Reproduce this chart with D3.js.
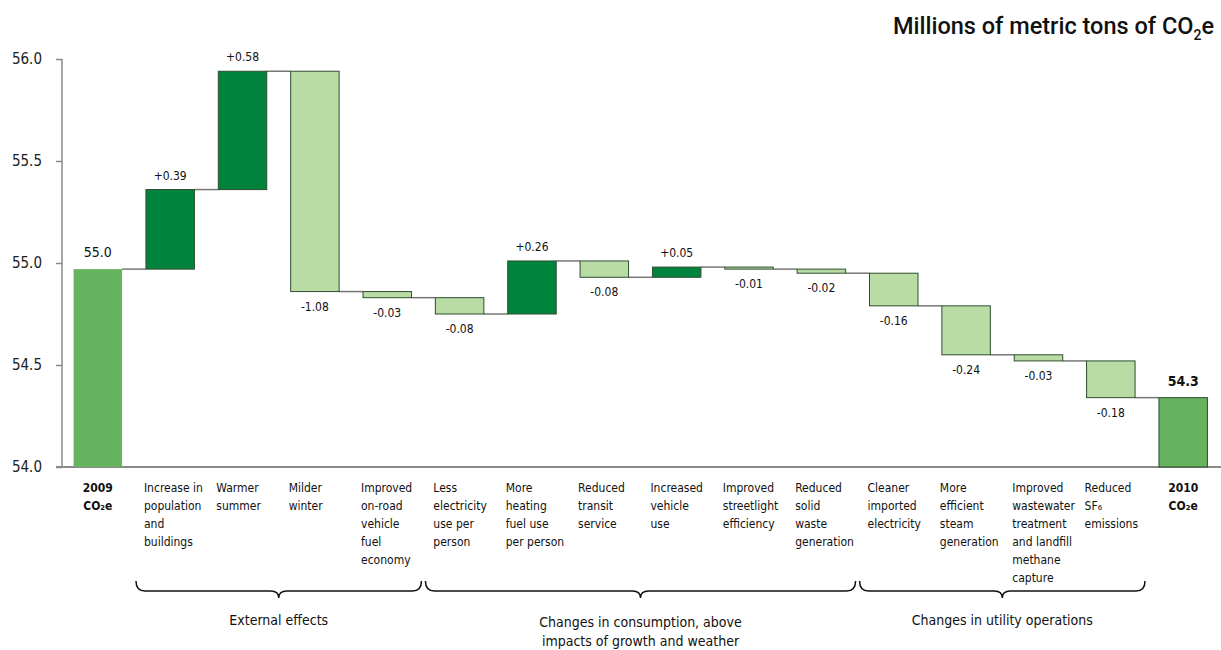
<!DOCTYPE html>
<html>
<head>
<meta charset="utf-8">
<script src="https://cdn.jsdelivr.net/npm/d3@7"></script>
<style>
  body { margin: 0; background: #fff; }
  svg { display: block; font-family: "DejaVu Sans Condensed", "Liberation Sans Narrow", sans-serif; }
</style>
</head>
<body>
<div id="chart"></div>
<script>
const labelLines = [
  ["2009", "CO₂e"],
  ["Increase in", "population", "and", "buildings"],
  ["Warmer", "summer"],
  ["Milder", "winter"],
  ["Improved", "on-road", "vehicle", "fuel", "economy"],
  ["Less", "electricity", "use per", "person"],
  ["More", "heating", "fuel use", "per person"],
  ["Reduced", "transit", "service"],
  ["Increased", "vehicle", "use"],
  ["Improved", "streetlight", "efficiency"],
  ["Reduced", "solid", "waste", "generation"],
  ["Cleaner", "imported", "electricity"],
  ["More", "efficient", "steam", "generation"],
  ["Improved", "wastewater", "treatment", "and landfill", "methane", "capture"],
  ["Reduced", "SF₆", "emissions"],
  ["2010", "CO₂e"]
];
const startTotal = 54.97;
const changes = [0.39, 0.58, -1.08, -0.03, -0.08, 0.26, -0.08, 0.05, -0.01, -0.02, -0.16, -0.24, -0.03, -0.18];
const totalLabels = ["55.0", "54.3"];
const yTicks = [54.0, 54.5, 55.0, 55.5, 56.0];
const groupNames = [["External effects"], ["Changes in consumption, above", "impacts of growth and weather"], ["Changes in utility operations"]];
const groupFirst = [1, 5, 11];
const groupLast = [4, 10, 14];

const width = 1221, height = 650;
const colTotal = "#66b35f", colUp = "#00843d", colDown = "#b9dca5";

// build waterfall steps
const steps = [];
let run = startTotal;
steps.push({ i: 0, y0: 54, y1: startTotal, kind: "total", label: totalLabels[0], end: startTotal, first: true });
changes.forEach((c, k) => {
  const s = run; run = +(run + c).toFixed(3);
  steps.push({ i: k + 1, y0: s, y1: run, kind: c >= 0 ? "up" : "down",
    label: (c >= 0 ? "+" : "") + c.toFixed(2), end: run });
});
steps.push({ i: steps.length, y0: 54, y1: run, kind: "total", label: totalLabels[1], end: run });

const svg = d3.select("#chart").append("svg")
  .attr("width", width).attr("height", height);

const x = d3.scaleBand()
  .domain(d3.range(labelLines.length))
  .range([62, 1219])
  .paddingInner(0.33)
  .paddingOuter(0.16);
const y = d3.scaleLinear().domain([54, 56]).range([467, 59]);
const bw = x.bandwidth();
const gap = x.step() - bw;

// title
const title = svg.append("text")
  .attr("x", 1214).attr("y", 34)
  .attr("text-anchor", "end")
  .attr("font-family", "Roboto, sans-serif")
  .attr("font-size", 23.5).attr("font-weight", 500)
  .attr("fill", "#111");
title.append("tspan").text("Millions of metric tons of CO");
title.append("tspan").attr("font-size", 14).attr("dy", 6).text("2");
title.append("tspan").attr("dy", -6).text("e");

// axes
const yAxis = svg.append("g").attr("transform", "translate(62,0)")
  .call(d3.axisLeft(y).tickValues(yTicks).tickFormat(d3.format(".1f")).tickSize(6).tickPadding(14));
yAxis.select(".domain").attr("stroke", "#888").attr("stroke-width", 1.5).attr("d", "M0,59V467");
yAxis.selectAll(".tick line").attr("stroke", "#888").attr("stroke-width", 1.5);
yAxis.selectAll(".tick text").attr("font-size", 15).attr("fill", "#222")
  .attr("font-family", "DejaVu Sans Condensed, sans-serif");

svg.append("line").attr("x1", 56).attr("x2", 1221).attr("y1", y(54)).attr("y2", y(54))
  .attr("stroke", "#888").attr("stroke-width", 2);

// connectors
svg.append("g").selectAll("line")
  .data(steps.slice(0, -1))
  .join("line")
  .attr("x1", d => x(d.i) + bw).attr("x2", d => x(d.i + 1))
  .attr("y1", d => y(d.end)).attr("y2", d => y(d.end))
  .attr("stroke", "#777").attr("stroke-width", 1.5);

// bars
svg.append("g").selectAll("rect")
  .data(steps)
  .join("rect")
  .attr("x", d => x(d.i))
  .attr("width", bw)
  .attr("y", d => y(Math.max(d.y0, d.y1)))
  .attr("height", d => Math.max(1.5, Math.abs(y(d.y0) - y(d.y1))))
  .attr("fill", d => d.kind === "total" ? colTotal : d.kind === "up" ? colUp : colDown)
  .attr("stroke", d => d.first ? "none" : "#2f4d2f")
  .attr("stroke-width", 1);

// value labels
svg.append("g").selectAll("text")
  .data(steps)
  .join("text")
  .attr("x", d => x(d.i) + bw / 2)
  .attr("y", d => d.kind === "down" ? y(Math.min(d.y0, d.y1)) + 19 : y(Math.max(d.y0, d.y1)) - (d.kind === "total" ? 12 : 10))
  .attr("text-anchor", "middle")
  .attr("font-size", d => d.kind === "total" ? 14 : 12)
  .attr("font-weight", d => d.kind === "total" && !d.first ? 700 : 400)
  .attr("fill", "#111")
  .text(d => d.label);

// category labels
const cat = svg.append("g").selectAll("text")
  .data(labelLines)
  .join("text")
  .attr("font-size", 12)
  .attr("fill", "#111")
  .attr("font-weight", (d, i) => (i === 0 || i === labelLines.length - 1) ? 700 : 400)
  .attr("text-anchor", (d, i) => (i === 0 || i === labelLines.length - 1) ? "middle" : "start")
  .attr("transform", (d, i) => {
    const tot = i === 0 || i === labelLines.length - 1;
    return `translate(${tot ? x(i) + bw / 2 : x(i) - 2},492)`;
  });
cat.selectAll("tspan")
  .data(d => d)
  .join("tspan")
  .attr("x", 0)
  .attr("y", (d, j) => j * 18)
  .text(d => d);

// group braces
function brace(x1, x2, yTop) {
  const xm = (x1 + x2) / 2, r = 9, yb = yTop + 10, tip = yTop + 17;
  return `M${x1},${yTop} Q${x1},${yb} ${x1 + r},${yb} L${xm - 8},${yb} Q${xm},${yb} ${xm},${tip}` +
    ` Q${xm},${yb} ${xm + 8},${yb} L${x2 - r},${yb} Q${x2},${yb} ${x2},${yTop}`;
}
const grp = svg.append("g");
groupNames.forEach((names, g) => {
  const x1 = x(groupFirst[g]) - gap / 2 + 2;
  const x2 = x(groupLast[g]) + bw + gap / 2 - 2;
  grp.append("path")
    .attr("d", brace(x1, x2, 581))
    .attr("fill", "none").attr("stroke", "#111").attr("stroke-width", 1.5);
  const t = grp.append("text")
    .attr("text-anchor", "middle").attr("font-size", 14).attr("fill", "#111")
    .attr("transform", `translate(${(x1 + x2) / 2},${names.length > 1 ? 627 : 625})`);
  names.forEach((n, j) => t.append("tspan").attr("x", 0).attr("y", j * 19).text(n));
});
</script>
</body>
</html>
